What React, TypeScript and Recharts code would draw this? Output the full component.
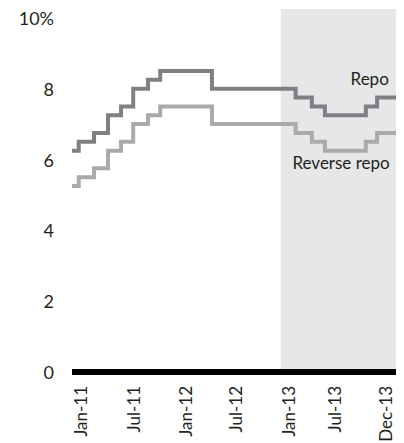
import React from "react";
import {
  LineChart,
  Line,
  XAxis,
  YAxis,
  ReferenceArea,
  ReferenceDot,
} from "recharts";

// months since Jan 2011 when the policy rate changed
const months = [0, 0.75, 2.45, 4.0, 5.45, 6.8, 8.45, 9.8, 15.55, 24.85, 26.65, 28.1, 32.65, 33.9, 36];
const repo = [6.25, 6.5, 6.75, 7.25, 7.5, 8.0, 8.25, 8.5, 8.0, 7.75, 7.5, 7.25, 7.5, 7.75, 7.75];
const reverseRepo = [5.25, 5.5, 5.75, 6.25, 6.5, 7.0, 7.25, 7.5, 7.0, 6.75, 6.5, 6.25, 6.5, 6.75, 6.75];

const tickMonths = [0.9, 6.8, 12.6, 18.2, 24, 29.2, 34.8];
const tickLabels = ["Jan-11", "Jul-11", "Jan-12", "Jul-12", "Jan-13", "Jul-13", "Dec-13"];
const yTicks = [0, 2, 4, 6, 8, 10];

const shadeFrom = 23.2;
const shadeTo = 36;
const yMax = 10.25;

const data = months.map((m, i) => ({ m, repo: repo[i], reverse: reverseRepo[i] }));

const FONT = "Lato, 'Open Sans', sans-serif";
const INK = "#231f20";

const YTick = (props: any) => {
  const { y, payload } = props;
  const v = payload.value;
  return (
    <text x={54} y={y} textAnchor="end" dominantBaseline="central" fontSize={18} fontFamily={FONT} fill={INK}>
      {v === 10 ? "10%" : v}
    </text>
  );
};

const XTick = (props: any) => {
  const { x, payload } = props;
  const idx = tickMonths.indexOf(payload.value);
  return (
    <text
      transform={`translate(${x}, 386) rotate(-90)`}
      textAnchor="end"
      dominantBaseline="central"
      fontSize={17}
      fontFamily={FONT}
      fill={INK}
    >
      {tickLabels[idx]}
    </text>
  );
};

const seriesLabel = (text: string) => (props: any) => {
  const { viewBox } = props;
  return (
    <text x={viewBox.x} y={viewBox.y} textAnchor="end" fontSize={17} fontFamily={FONT} fill={INK}>
      {text}
    </text>
  );
};

export default function App() {
  return (
    <div style={{ position: "absolute", left: 0, top: 0 }}>
      <LineChart width={404} height={443} data={data} margin={{ top: 9, right: 8, bottom: 0, left: 0 }}>
        <ReferenceArea x1={shadeFrom} x2={shadeTo} y1={0} y2={yMax} fill="#e6e7e8" fillOpacity={1} stroke="none" />
        <XAxis
          dataKey="m"
          type="number"
          domain={[0, 36]}
          ticks={tickMonths}
          interval={0}
          tick={<XTick />}
          tickLine={false}
          axisLine={{ stroke: "#000", strokeWidth: 6 }}
          height={71}
        />
        <YAxis
          type="number"
          domain={[0, yMax]}
          ticks={yTicks}
          tick={<YTick />}
          tickLine={false}
          axisLine={false}
          width={72}
        />
        <Line
          type="stepAfter"
          dataKey="reverse"
          stroke="#a9aaac"
          strokeWidth={4}
          dot={false}
          isAnimationActive={false}
        />
        <Line
          type="stepAfter"
          dataKey="repo"
          stroke="#808084"
          strokeWidth={4}
          dot={false}
          isAnimationActive={false}
        />
        <ReferenceDot x={35.2} y={8.1} r={0} stroke="none" label={seriesLabel("Repo")} />
        <ReferenceDot x={35.3} y={5.73} r={0} stroke="none" label={seriesLabel("Reverse repo")} />
      </LineChart>
    </div>
  );
}
